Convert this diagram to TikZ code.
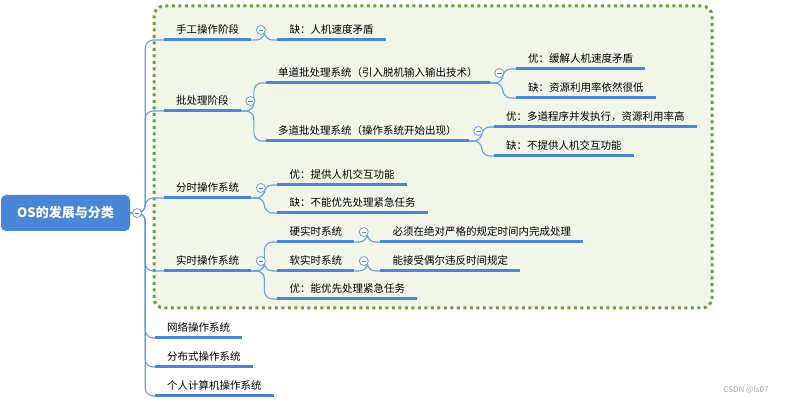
\documentclass[tikz,border=0pt]{standalone}
\usepackage{fontspec}
\setmainfont{Noto Sans CJK SC}
\usepackage{tikz}
\usetikzlibrary{positioning}
\definecolor{topicblue}{HTML}{4A86D8}
\definecolor{linkblue}{HTML}{6A9FE3}
\definecolor{boxgreen}{HTML}{6E9E3A}
\definecolor{boxfill}{HTML}{F1F6E9}
\tikzset{
  topic/.style={inner xsep=12pt, inner ysep=4pt, text height=8pt, text depth=2pt,
    font=\fontsize{10.5}{12}\selectfont, anchor=south west},
  uline/.style={topicblue, line width=3pt},
  link/.style={linkblue, line width=1.1pt, rounded corners=8pt},
  fold/.style={circle, draw=topicblue!80, fill=white, line width=0.8pt, minimum size=9pt, inner sep=0pt,
    path picture={\draw[topicblue, line width=0.8pt]
      ([xshift=-2.2pt]path picture bounding box.center) -- ([xshift=2.2pt]path picture bounding box.center);}},
}

\begin{document}
\begin{tikzpicture}[x=1pt, y=1pt]
   \useasboundingbox (0,0) rectangle (788,402);
   \draw[boxgreen, fill=boxfill, line width=3pt, dash pattern=on 3pt off 3.5pt, rounded corners=10pt]
      (154,94) rectangle (712,396);
   \node[fill=topicblue, rounded corners=5pt, minimum width=129pt, minimum height=36pt, text=white,
      font=\fontsize{13}{15}\selectfont\bfseries] (os) at (65.5,189) {OS的发展与分类};
   \node[topic] (hand) at (164,362) {手工操作阶段};
   \node[topic] (batch) at (164,291) {批处理阶段};
   \node[topic] (tshare) at (164,204) {分时操作系统};
   \node[topic] (rtime) at (164,131) {实时操作系统};
   \node[topic] (net) at (155,64) {网络操作系统};
   \node[topic] (dist) at (155,35) {分布式操作系统};
   \node[topic] (pc) at (155,6) {个人计算机操作系统};
   \node[topic, right=26pt of hand.south east, anchor=south west] (slow) {缺：人机速度矛盾};
   \node[topic, above right=28pt and 25pt of batch.south east, anchor=south west] (single) {单道批处理系统（引入脱机输入输出技术）};
   \node[topic, below right=30pt and 25pt of batch.south east, anchor=south west] (multi) {多道批处理系统（操作系统开始出现）};
   \node[topic, above right=13pt and 26pt of tshare.south east, anchor=south west] (tsgood) {优：提供人机交互功能};
   \node[topic, below right=15pt and 26pt of tshare.south east, anchor=south west] (tsbad) {缺：不能优先处理紧急任务};
   \node[topic, above right=29pt and 26pt of rtime.south east, anchor=south west] (hard) {硬实时系统};
   \node[topic, right=26pt of rtime.south east, anchor=south west] (soft) {软实时系统};
   \node[topic, below right=28pt and 26pt of rtime.south east, anchor=south west] (rtgood) {优：能优先处理紧急任务};
   \node[topic, above right=14pt and 26pt of single.south east, anchor=south west] (sgood) {优：缓解人机速度矛盾};
   \node[topic, below right=15pt and 26pt of single.south east, anchor=south west] (sbad) {缺：资源利用率依然很低};
   \node[topic, above right=14pt and 25pt of multi.south east, anchor=south west] (mgood) {优：多道程序并发执行，资源利用率高};
   \node[topic, below right=15pt and 25pt of multi.south east, anchor=south west] (mbad) {缺：不提供人机交互功能};
   \node[topic, right=26pt of hard.south east, anchor=south west] (hardrule) {必须在绝对严格的规定时间内完成处理};
   \node[topic, right=26pt of soft.south east, anchor=south west] (softrule) {能接受偶尔违反时间规定};
   \node[text=gray!70, font=\fontsize{8}{9}\selectfont] (mark) at (746,12) {CSDN @ls07};
   \foreach \n in {hand,batch,tshare,rtime,net,dist,pc}
      \draw[link] (os.east) -- ++(15,0) |- (\n.south west);
   \foreach \p/\c in {hand/slow,batch/single,batch/multi,tshare/tsgood,tshare/tsbad,rtime/hard,rtime/soft,
         rtime/rtgood,single/sgood,single/sbad,multi/mgood,multi/mbad,hard/hardrule,soft/softrule}
      \draw[link] (\p.south east) -- ++(13,0) |- (\c.south west);
   \foreach \n in {hand,batch,tshare,rtime,net,dist,pc,slow,single,multi,tsgood,tsbad,hard,soft,rtgood,
         sgood,sbad,mgood,mbad,hardrule,softrule}
      \draw[uline] (\n.south west) -- (\n.south east);
   \foreach \n in {hand,batch,tshare,rtime,single,multi,hard,soft}
      \node[fold] at ([shift={(9.5,10)}]\n.south east) {};
   \node[fold] (osfold) at (137,189) {};
\end{tikzpicture}
\end{document}
